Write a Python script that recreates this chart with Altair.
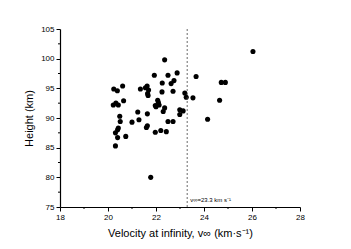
import altair as alt
import pandas as pd

vel = [20.24, 20.39, 20.61, 20.22, 20.33, 20.43, 20.65, 20.49, 20.51, 20.31,
       20.40, 20.43, 20.40, 20.74, 20.31, 21.00, 21.24, 21.29, 21.35, 21.56,
       21.63, 21.69, 21.65, 21.67, 21.64, 21.64, 21.60, 21.78, 21.93, 21.97,
       22.00, 22.07, 22.10, 22.13, 21.97, 22.20, 22.26, 22.25, 22.36, 22.50,
       22.88, 22.36, 22.30, 22.43, 22.50, 22.63, 22.75, 22.71, 22.71, 22.99,
       22.99, 23.13, 23.20, 23.26, 23.54, 23.67, 24.15, 24.65, 24.72, 24.89,
       26.04]
height = [94.9, 94.6, 95.4, 92.2, 92.5, 92.2, 92.9, 90.3, 89.4, 87.5,
          88.0, 88.3, 86.7, 86.9, 85.3, 89.3, 91.0, 89.7, 94.9, 95.1,
          95.4, 94.7, 94.1, 93.8, 90.7, 88.7, 88.4, 80.0, 97.2, 92.1,
          91.9, 93.0, 92.6, 92.2, 87.6, 87.9, 95.9, 94.4, 99.8, 97.2,
          97.6, 91.7, 91.1, 87.7, 89.4, 95.8, 96.3, 94.5, 89.4, 91.4,
          90.6, 91.2, 94.2, 93.5, 93.4, 97.0, 89.8, 93.0, 96.0, 96.0,
          101.2]
x_major = [18, 20, 22, 24, 26, 28]
x_minor = [19, 21, 23, 25, 27]
y_major = [75, 80, 85, 90, 95, 100, 105]
y_minor = [77.5, 82.5, 87.5, 92.5, 97.5, 102.5]
v_limit = [23.3]
limit_label = ["v∞=23.3 km s⁻¹"]

df = pd.DataFrame({"v": vel, "h": height})
lim = pd.DataFrame({"v": v_limit, "h": [75], "label": limit_label})
xm = pd.DataFrame({"v": x_minor})
ym = pd.DataFrame({"h": y_minor})

W, H = 240, 178
xs = alt.Scale(domain=[18, 28], nice=False, zero=False)
ys = alt.Scale(domain=[75, 105], nice=False, zero=False)

common = dict(grid=False, tickSize=4, labelFontSize=8, titleFontSize=11,
              titleFontWeight="normal", labelPadding=2, titlePadding=6,
              domainColor="black", tickColor="black", labelColor="black",
              titleColor="black", labelFont="Liberation Sans",
              titleFont="Liberation Sans", labelOverlap=False, labelFlush=False,
              domainWidth=1.2, tickWidth=1)

xaxis = alt.Axis(values=x_major, title="Velocity at infinity, v∞ (km·s⁻¹)", **common)
yaxis = alt.Axis(values=y_major, title="Height (km)", **common)

pts = alt.Chart(df).mark_circle(size=26, color="black", opacity=1).encode(
    x=alt.X("v:Q", scale=xs, axis=xaxis),
    y=alt.Y("h:Q", scale=ys, axis=yaxis),
)

xminor = alt.Chart(xm).mark_rule(color="black", strokeWidth=1).encode(
    x=alt.X("v:Q", scale=xs, axis=xaxis),
    y=alt.value(H),
    y2=alt.value(H + 2),
)
yminor = alt.Chart(ym).mark_rule(color="black", strokeWidth=1).encode(
    y=alt.Y("h:Q", scale=ys, axis=yaxis),
    x=alt.value(-2),
    x2=alt.value(0),
)

rule = alt.Chart(lim).mark_rule(color="#444444", strokeDash=[2, 2], strokeWidth=0.8).encode(
    x=alt.X("v:Q", scale=xs, axis=xaxis),
)

txt = alt.Chart(lim).mark_text(align="left", baseline="bottom", dx=3, dy=-4,
                               fontSize=6, font="Liberation Sans", color="black").encode(
    x=alt.X("v:Q", scale=xs, axis=xaxis),
    y=alt.Y("h:Q", scale=ys, axis=yaxis),
    text="label:N",
)

chart = alt.layer(pts, xminor, yminor, rule, txt).properties(
    width=W, height=H,
    padding={"left": 15, "top": 17, "right": 5, "bottom": 5},
).configure_view(stroke=None)

chart.save("out.html", embed_options={"renderer": "svg", "actions": False})
